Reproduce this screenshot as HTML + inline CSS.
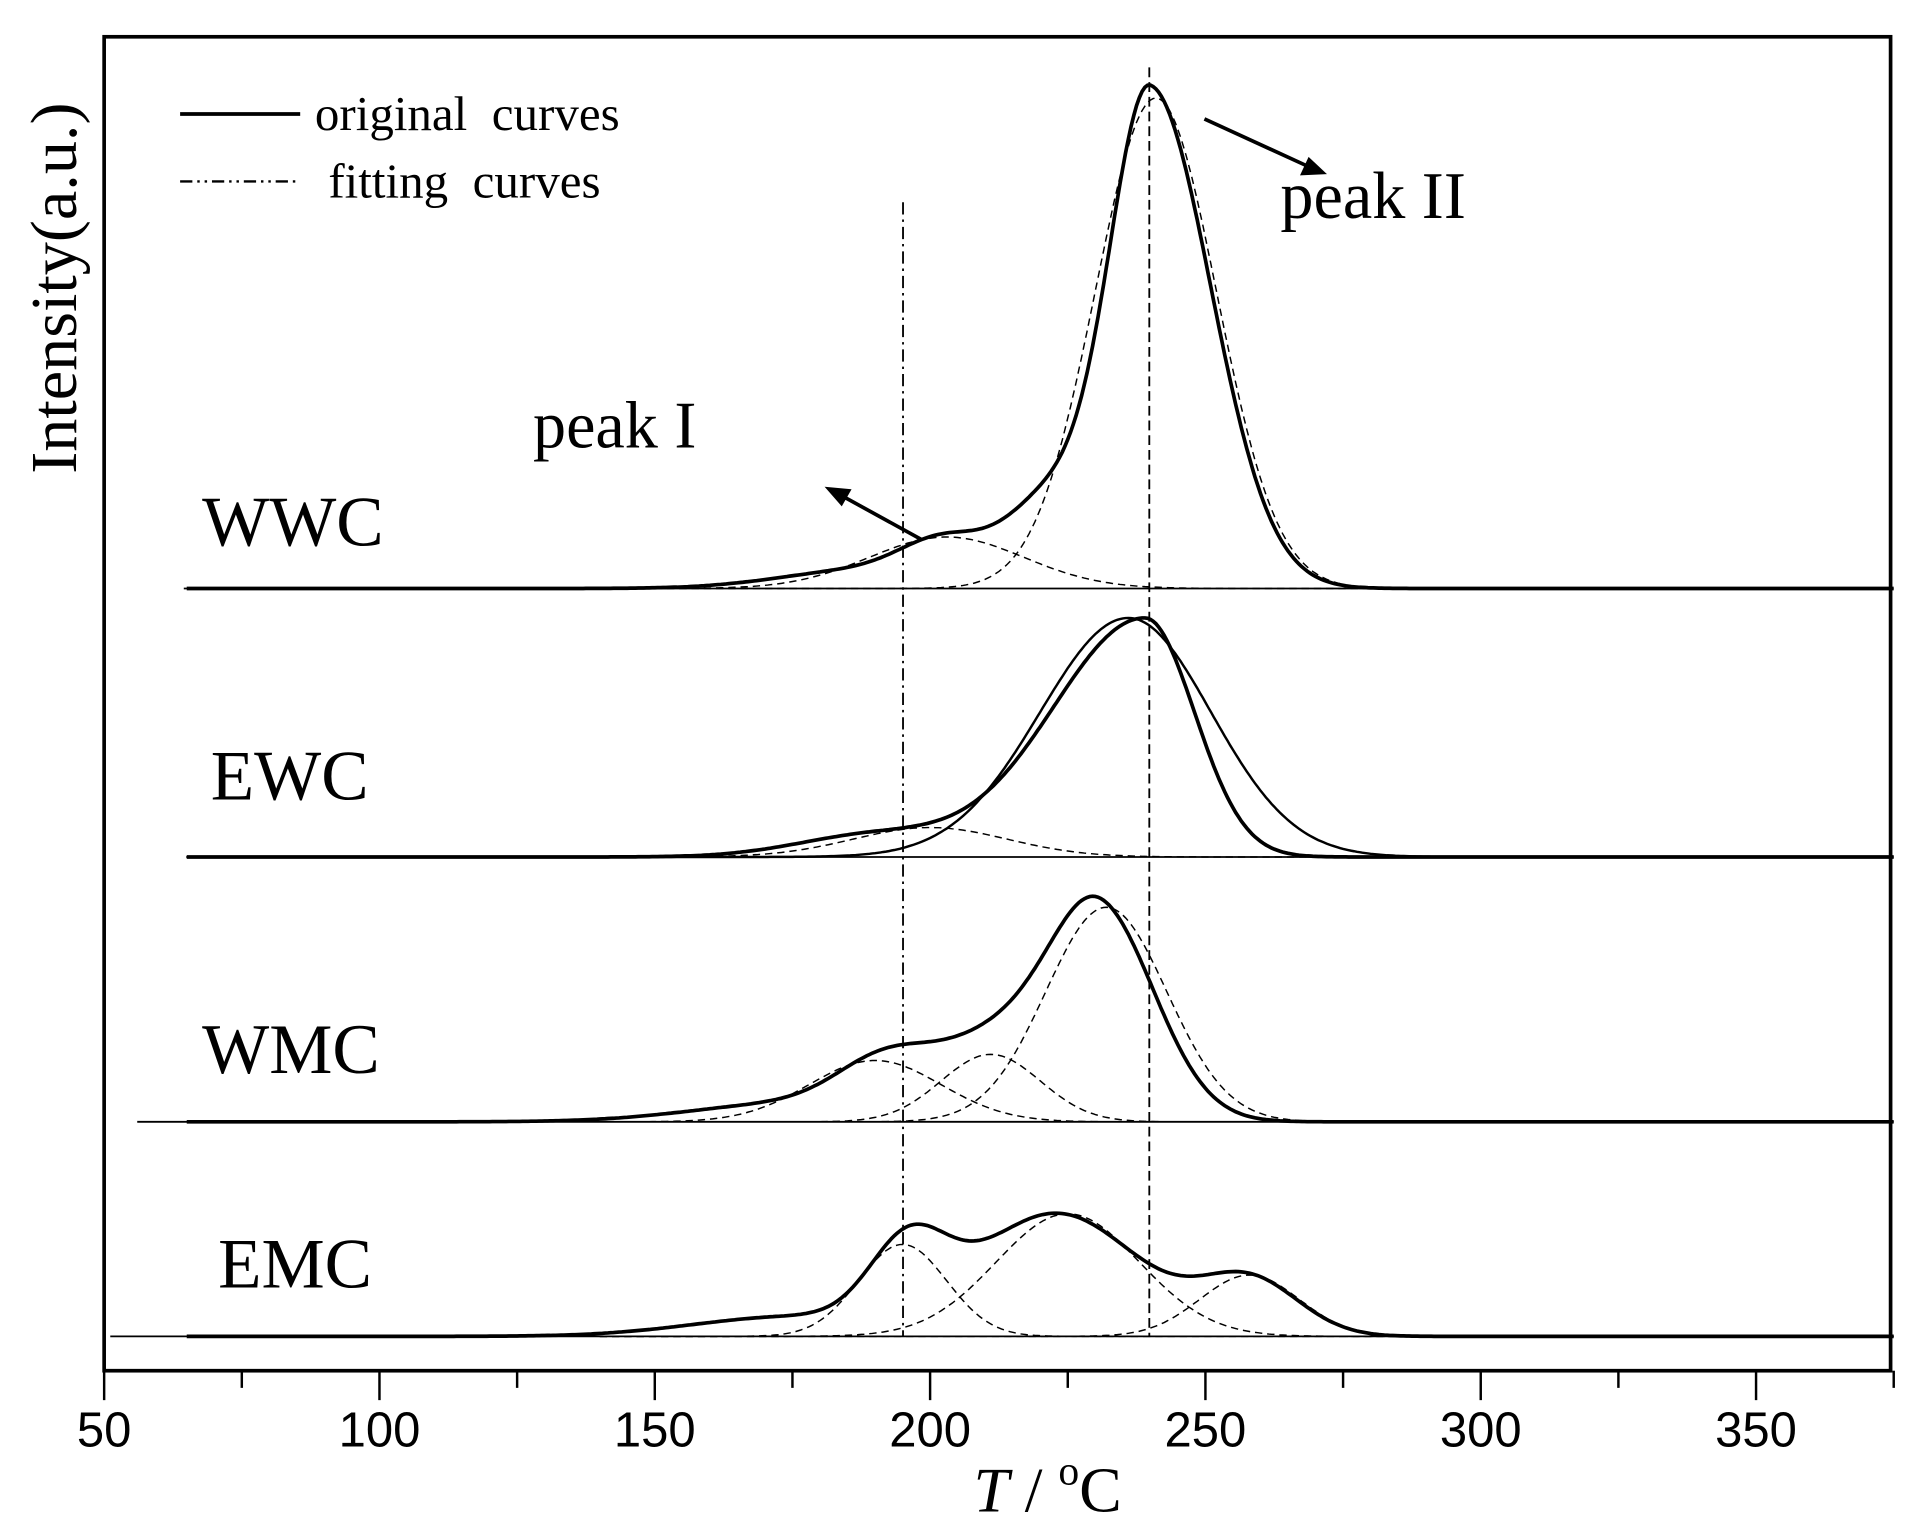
<!DOCTYPE html>
<html><head><meta charset="utf-8"><style>html,body{margin:0;padding:0;background:#fff}svg{display:block}</style></head>
<body>
<svg id="s" width="1920" height="1535" viewBox="0 0 1567 1252" preserveAspectRatio="none" xmlns="http://www.w3.org/2000/svg">
<rect x="85" y="30" width="1458" height="1088" fill="none" stroke="#000" stroke-width="3"/>
<g id="ticks" stroke="#000" stroke-width="2"></g>
<g font-family="Liberation Sans, sans-serif" font-size="40" text-anchor="middle" id="tl"></g>
<text x="855" y="1233" font-family="Liberation Serif, serif" font-size="52" text-anchor="middle"><tspan font-style="italic">T</tspan> / <tspan dy="-22" font-size="34">o</tspan><tspan dy="22">C</tspan></text>
<text transform="translate(62,235) rotate(-90)" font-family="Liberation Serif, serif" font-size="54" text-anchor="middle">Intensity(a.u.)</text>
<line x1="147" y1="93" x2="245" y2="93" stroke="#000" stroke-width="3"/>
<text x="257" y="106" font-family="Liberation Serif, serif" font-size="40" xml:space="preserve">original  curves</text>
<line x1="147" y1="148" x2="245" y2="148" stroke="#000" stroke-width="2" stroke-dasharray="10,4,2,4,2,4"/>
<text x="268" y="161" font-family="Liberation Serif, serif" font-size="40" xml:space="preserve">fitting  curves</text>
<g font-family="Liberation Serif, serif" font-size="58">
<text x="165" y="445">WWC</text><text x="172" y="652">EWC</text><text x="165" y="875">WMC</text><text x="178" y="1050">EMC</text>
<text x="435" y="365" font-size="54">peak I</text><text x="1045" y="178" font-size="54">peak II</text>
</g>
<line x1="737" y1="165" x2="737" y2="1090" stroke="#000" stroke-width="1.5" stroke-dasharray="10,4,2,4"/>
<line x1="938" y1="55" x2="938" y2="1090" stroke="#000" stroke-width="1.5" stroke-dasharray="8,4"/>
<line x1="752" y1="440" x2="690" y2="406" stroke="#000" stroke-width="3"/>
<polygon points="673,397 695,399 687,413" fill="#000"/>
<line x1="983" y1="97" x2="1066" y2="135" stroke="#000" stroke-width="3"/>
<polygon points="1083,142 1061,143 1068,128" fill="#000"/>
<g id="curves" fill="none" stroke="#000"></g>
</svg>
<script>
var ns="http://www.w3.org/2000/svg";
function X(T){return 85+(T-50)*4.494;}
var tk=document.getElementById('ticks'),tl=document.getElementById('tl');
for(var T=50;T<=375;T+=25){var l=document.createElementNS(ns,'line');l.setAttribute('x1',X(T));l.setAttribute('x2',X(T));l.setAttribute('y1',1118);l.setAttribute('y2',T%50==0?1142:1132);tk.appendChild(l);
if(T%50==0){var t=document.createElementNS(ns,'text');t.setAttribute('x',X(T));t.setAttribute('y',1180);t.textContent=T;tl.appendChild(t);}}
function g(T,c,h,s,s2){var ss=(T>c&&s2)?s2:s;return h*Math.exp(-0.5*(T-c)*(T-c)/(ss*ss));}
var cv=document.getElementById('curves');
function path(base,fn,t0,w,dash){var d='';for(var T=t0;T<=375;T+=0.5){var y=base-fn(T);d+=(d?'L':'M')+X(T).toFixed(1)+','+y.toFixed(1);}
var p=document.createElementNS(ns,'path');p.setAttribute('d',d);p.setAttribute('stroke-width',w);if(dash)p.setAttribute('stroke-dasharray',dash);cv.appendChild(p);}
function base(y,x0){var l=document.createElementNS(ns,'line');l.setAttribute('x1',x0);l.setAttribute('x2',1543);l.setAttribute('y1',y);l.setAttribute('y2',y);l.setAttribute('stroke-width',1.5);cv.appendChild(l);}
var D='6,4';
// WWC
base(480,150);
path(480,function(T){return g(T,240,405,7.5,11)+g(T,222,70,8)+g(T,203,32,8)+g(T,188,15,15);},65,3);
path(480,function(T){return g(T,241,400,11);},150,1.2,D);
path(480,function(T){return g(T,203,42,14);},150,1.2,D);
// EWC
base(699,152);
path(699,function(T){return g(T,239,195,17,9)+g(T,190,18,14);},65,3);
path(699,function(T){return g(T,236,195,16,15);},150,2,null);
path(699,function(T){return g(T,200,24,14);},150,1.2,D);
// WMC
base(915,112);
path(915,function(T){return g(T,231,165,9,10)+g(T,213,65,11)+g(T,192,40,9)+g(T,175,15,18);},65,3);
path(915,function(T){return g(T,190,50,12);},140,1.2,D);
path(915,function(T){return g(T,211,55,9);},140,1.2,D);
path(915,function(T){return g(T,232,175,11);},140,1.2,D);
// EMC
base(1090,90);
path(1090,function(T){return g(T,196,62,7)+g(T,223,100,15)+g(T,258,45,9)+g(T,175,16,18);},65,3);
path(1090,function(T){return g(T,195,75,8);},140,1.2,D);
path(1090,function(T){return g(T,225,100,13);},140,1.2,D);
path(1090,function(T){return g(T,258,50,9);},140,1.2,D);
</script>
</body></html>
